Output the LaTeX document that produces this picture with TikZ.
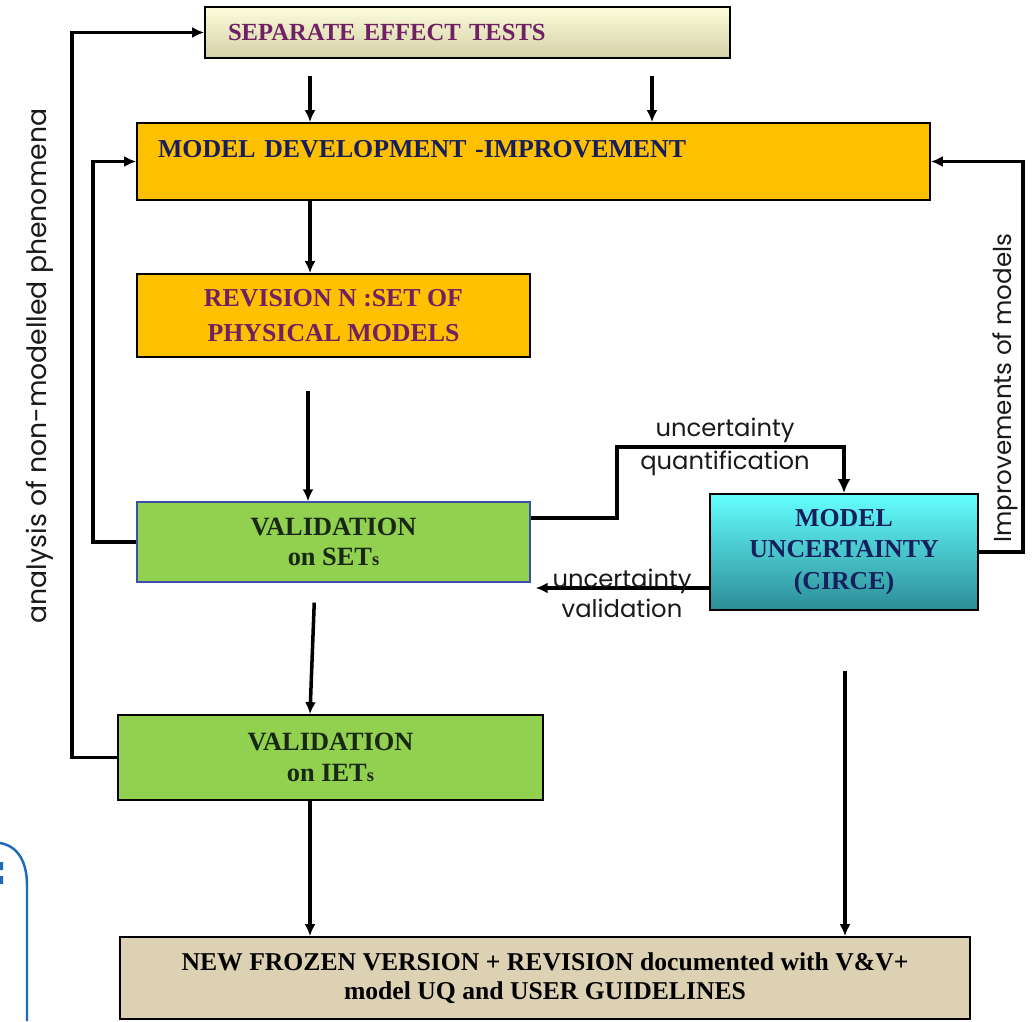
\documentclass[tikz,border=0pt]{standalone}
\usepackage{fontspec}
\setmainfont{Liberation Serif}
\newfontfamily\handfont{Poppins}
\usetikzlibrary{arrows.meta}
\definecolor{setlight}{RGB}{253,253,218}
\definecolor{setdark}{RGB}{212,208,168}
\definecolor{mdorange}{RGB}{255,192,0}
\definecolor{valgreen}{RGB}{146,208,80}
\definecolor{mutop}{RGB}{100,255,255}
\definecolor{mubot}{RGB}{44,140,150}
\definecolor{frozen}{RGB}{221,209,180}
\definecolor{plum}{RGB}{112,32,100}
\definecolor{navy}{RGB}{22,30,92}
\definecolor{valtext}{RGB}{25,40,20}
\definecolor{frameblue}{RGB}{30,105,185}
\definecolor{edgeblue}{RGB}{60,80,170}

\begin{document}
\begin{tikzpicture}[x=0.02cm,y=-0.02cm,
  box/.style={draw=black,line width=1pt,inner sep=0pt,align=center,
    font=\bfseries\fontsize{14.7}{20}\selectfont},
  arr/.style={line width=2pt,-{Latex[length=2.4mm,width=2.2mm]}},
  bigarr/.style={line width=2.8pt,-{Latex[length=2.8mm,width=2.6mm]}},
  lbl/.style={font=\handfont\fontsize{13.8}{17}\selectfont,align=center,text=black!90},
  sidelbl/.style={font=\handfont\fontsize{14}{17}\selectfont,rotate=90,text=black!90}]
\useasboundingbox (0,0) rectangle (1033,1021);

% boxes
\node[box,top color=setlight,bottom color=setdark,minimum width=10.5cm,minimum height=1.02cm,
  text width=9.58cm,align=left,text=plum,font=\bfseries\fontsize{14}{17}\selectfont] (set) at (467.5,32.5)
  {SEPARATE EFFECT TESTS};
\node[box,fill=mdorange,minimum width=15.86cm,minimum height=1.54cm,text width=15.02cm,
  align=left,text=navy] (md) at (533.5,161.5) {\raisebox{0.5cm}{MODEL DEVELOPMENT -IMPROVEMENT}};
\node[box,fill=mdorange,minimum width=7.86cm,minimum height=1.66cm,text=plum] (rn) at (333.5,315.5)
  {REVISION N :SET OF\\PHYSICAL MODELS};
\node[box,fill=valgreen,draw=edgeblue,line width=0.8pt,minimum width=7.86cm,minimum height=1.6cm,
  text=valtext,font=\bfseries\fontsize{15}{17.5}\selectfont] (vset) at (333.5,542)
  {VALIDATION\\on SET{\fontsize{10.5}{12}\selectfont s}};
\node[box,fill=valgreen,minimum width=8.5cm,minimum height=1.7cm,text=valtext,
  font=\bfseries\fontsize{15}{17.5}\selectfont] (viet) at (330.5,757.5)
  {VALIDATION\\on IET{\fontsize{10.5}{12}\selectfont s}};
\node[box,top color=mutop,bottom color=mubot,minimum width=5.36cm,minimum height=2.32cm,text=navy,
  font=\bfseries\fontsize{14.7}{18}\selectfont] (mu) at (844,552) {MODEL\\UNCERTAINTY\\(CIRCE)};
\node[box,fill=frozen,minimum width=17cm,minimum height=1.64cm,text=black,
  font=\bfseries\fontsize{14.6}{16.5}\selectfont] (fv) at (545,978)
  {NEW FROZEN VERSION + REVISION documented with V\&V+\\model UQ and USER GUIDELINES};

% straight arrows
\draw[arr,shorten <=0.34cm] (310,0 |- set.south) -- (310,0 |- md.north);
\draw[arr,shorten <=0.34cm] (652,0 |- set.south) -- (652,0 |- md.north);
\draw[arr] (310,0 |- md.south) -- (310,0 |- rn.north);
\draw[arr,shorten <=0.66cm] (308,0 |- rn.south) -- (308,0 |- vset.north);
\draw[arr,shorten <=0.4cm] (315,0 |- vset.south) -- (310,0 |- viet.north);
\draw[arr] (310,0 |- viet.south) -- (310,0 |- fv.north);
\draw[arr,shorten <=1.2cm] (845,0 |- mu.south) -- (845,0 |- fv.north);

% feedback loops
\draw[arr] (vset.west) -- (93,0 |- vset.west) |- (md.west);
\draw[arr] (viet.west) -- (72,0 |- viet.west) |- (set.west);
\draw[arr] (mu.east) -- (1023,0 |- mu.east) |- (md.east);
\draw[bigarr] (vset.east |- 0,518) -| (617,447) -| (mu.north);
\draw[arr] (mu.west |- 0,588) -- ([xshift=0.1cm]vset.east |- 0,588);

% labels
\node[lbl] (uq) at (725,447) {uncertainty\\[2pt]quantification};
\node[lbl] (uv) at (622,593) {uncertainty\\validation};
\node[sidelbl,font=\handfont\fontsize{15.2}{17}\selectfont] (nonmod) at (40,366) {analysis of non-modelled phenomena};
\node[sidelbl] (impr) at (1005,388) {Improvements of models};

% frame piece
\draw[frameblue,line width=1.4pt] (0,843) .. controls (18,846) and (27,862) .. (27,885) -- (27,1021);
\fill[frameblue] (0,862) rectangle (3,870) (0,876) rectangle (3,884);
\end{tikzpicture}
\end{document}
